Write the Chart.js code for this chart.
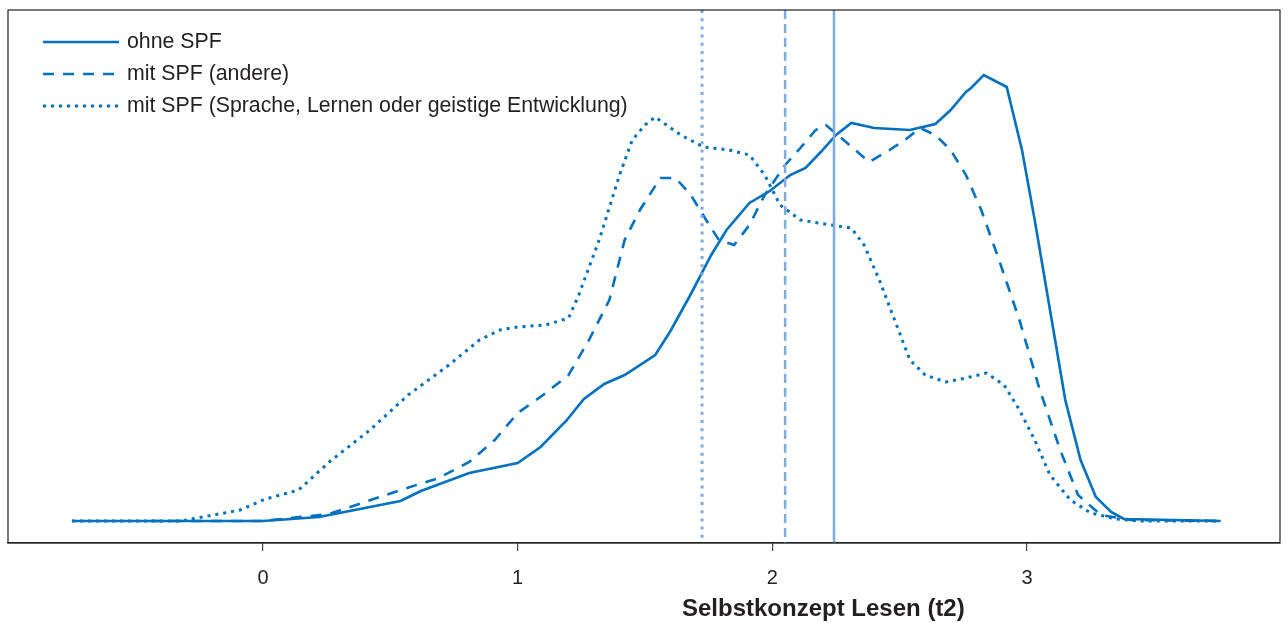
<!DOCTYPE html>
<html>
<head>
<meta charset="utf-8">
<script src="https://cdn.jsdelivr.net/npm/chart.js@4"></script>
<style>
  html, body { margin: 0; padding: 0; background: #fff; }
  #wrap { width: 1288px; height: 623px; }
</style>
</head>
<body>
<div id="wrap"><canvas id="densityChart"></canvas></div>
<script>
// density curves (x = Selbstkonzept, y = density in arbitrary units)
const ohneX = [-0.75, 0, 0.22, 0.54, 0.62, 0.81, 1.0, 1.09, 1.19, 1.26, 1.34, 1.42, 1.54, 1.6, 1.68, 1.76, 1.82, 1.91, 1.99, 2.07, 2.13, 2.19, 2.25, 2.31, 2.4, 2.54, 2.64, 2.7, 2.76, 2.78, 2.83, 2.92, 2.98, 3.03, 3.09, 3.15, 3.21, 3.27, 3.33, 3.38, 3.76];
const ohneY = [0, 0, 4, 20, 30, 48, 58, 74, 100, 122, 137, 146, 166, 190, 227, 266, 291, 318, 330, 346, 353, 369, 386, 398, 393, 391, 397, 411, 429, 433, 446, 434, 371, 301, 211, 121, 61, 24, 9, 2, 0];

const andereX = [-0.44, 0, 0.26, 0.54, 0.69, 0.81, 0.91, 1.0, 1.1, 1.2, 1.28, 1.36, 1.42, 1.48, 1.56, 1.62, 1.68, 1.74, 1.79, 1.85, 1.91, 1.97, 2.05, 2.11, 2.17, 2.21, 2.28, 2.38, 2.46, 2.52, 2.58, 2.64, 2.7, 2.76, 2.82, 2.89, 2.97, 3.05, 3.13, 3.2, 3.29, 3.41, 3.76];
const andereY = [0, 0, 7, 31, 43, 59, 81, 108, 126, 146, 181, 221, 281, 311, 343, 343, 326, 301, 281, 276, 296, 326, 356, 373, 391, 396, 381, 359, 371, 381, 393, 386, 371, 346, 311, 261, 201, 131, 71, 26, 6, 1, 0];

const spracheX = [-0.75, -0.32, -0.09, 0.01, 0.14, 0.26, 0.42, 0.57, 0.73, 0.85, 0.93, 1.0, 1.11, 1.2, 1.24, 1.32, 1.4, 1.45, 1.5, 1.54, 1.64, 1.73, 1.83, 1.91, 1.97, 2.03, 2.11, 2.23, 2.31, 2.36, 2.42, 2.48, 2.54, 2.6, 2.68, 2.76, 2.84, 2.91, 2.97, 3.03, 3.09, 3.17, 3.25, 3.35, 3.44, 3.76];
const spracheY = [0, 0, 11, 22, 31, 59, 91, 126, 156, 181, 191, 194, 196, 203, 226, 281, 346, 381, 396, 404, 386, 374, 371, 366, 346, 316, 301, 296, 293, 276, 241, 201, 161, 146, 139, 143, 148, 136, 111, 81, 46, 21, 8, 2, 0, 0];

// group means (vertical reference lines), same order as the curves
const meanX = [2.242, 2.05, 1.724];

const xTicks = [0, 1, 2, 3];
const legendLabels = ['ohne SPF', 'mit SPF (andere)', 'mit SPF (Sprache, Lernen oder geistige Entwicklung)'];
const xTitle = 'Selbstkonzept Lesen (t2)';

const curveColor = '#0070c0';
const meanColor = '#7eaadf';
const textColor = '#231f20';
const fontFam = '"Liberation Sans", Arial, sans-serif';
const curveDash = [[], [11, 9], [3, 5]];
const meanDash = [[], [9, 5], [3, 5.2]];
const Y_MIN = -22, Y_MAX = 511;

const toPoints = (xs, ys) => xs.map((x, i) => ({ x: x, y: ys[i] }));
const curves = [toPoints(ohneX, ohneY), toPoints(andereX, andereY), toPoints(spracheX, spracheY)];

const datasets = [];
meanX.forEach((m, i) => {
    datasets.push({
        label: 'mean ' + i,
        data: [{ x: m, y: Y_MAX }, { x: m, y: Y_MIN }],
        borderColor: meanColor,
        borderWidth: i === 2 ? 3 : 2.5,
        borderDash: meanDash[i],
        pointRadius: 0,
        fill: false
    });
});
curves.forEach((pts, i) => {
    datasets.push({
        label: legendLabels[i],
        data: pts,
        borderColor: curveColor,
        borderWidth: i === 2 ? 3 : 2.6,
        borderDash: curveDash[i],
        tension: 0,
        pointRadius: 0,
        fill: false
    });
});

// legend drawn inside the plot, top-left, the frame, and the axis title (off-centre like the original)
const boxLegend = {
    id: 'boxLegend',
    afterDraw(chart) {
        const ctx = chart.ctx;
        const a = chart.chartArea;
        ctx.save();
        ctx.strokeStyle = '#222';
        ctx.lineWidth = 1.2;
        ctx.setLineDash([]);
        ctx.strokeRect(a.left, a.top, a.right - a.left, a.bottom - a.top);

        ctx.font = '21.3px ' + fontFam;
        ctx.fillStyle = textColor;
        ctx.textBaseline = 'middle';
        legendLabels.forEach((lab, i) => {
            const y = a.top + 32 + i * 32;
            ctx.beginPath();
            ctx.strokeStyle = curveColor;
            ctx.lineWidth = i === 2 ? 3 : 2.6;
            ctx.setLineDash(curveDash[i]);
            ctx.moveTo(a.left + 35, y);
            ctx.lineTo(a.left + 111, y);
            ctx.stroke();
            ctx.setLineDash([]);
            ctx.fillText(lab, a.left + 119, y);
        });

        ctx.font = 'bold 24px ' + fontFam;
        ctx.textAlign = 'center';
        ctx.fillText(xTitle, a.left + (a.right - a.left) * 0.641, 609);
        ctx.restore();
    }
};

new Chart(document.getElementById('densityChart'), {
    type: 'line',
    data: { datasets: datasets },
    options: {
        responsive: true,
        maintainAspectRatio: false,
        animation: false,
        layout: { padding: { left: 8, right: 8, top: 10, bottom: 0 } },
        plugins: { legend: { display: false }, tooltip: { enabled: false } },
        scales: {
            x: {
                type: 'linear',
                min: -1.001,
                max: 3.993,
                afterBuildTicks: (s) => { s.ticks = xTicks.map(v => ({ value: v })); },
                afterFit: (s) => { s.height = 80; },
                grid: { drawOnChartArea: false, drawTicks: true, tickLength: 8, color: '#444', lineWidth: 1.2 },
                border: { display: true, color: '#222', width: 1.2 },
                ticks: {
                    color: textColor,
                    padding: 15,
                    font: { family: fontFam, size: 20 },
                    maxRotation: 0
                }
            },
            y: {
                type: 'linear',
                min: Y_MIN,
                max: Y_MAX,
                display: false
            }
        }
    },
    plugins: [boxLegend]
});
</script>
</body>
</html>
